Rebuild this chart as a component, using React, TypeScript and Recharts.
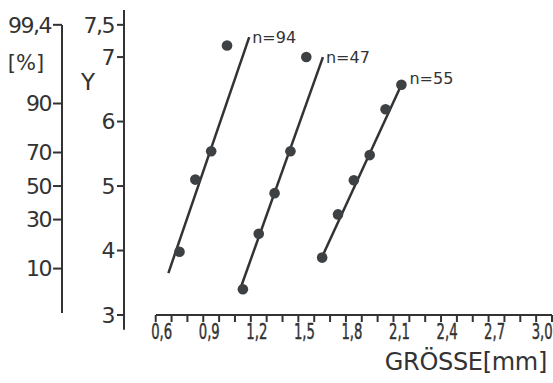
import {
  ComposedChart,
  Line,
  Scatter,
  XAxis,
  YAxis,
  ReferenceLine,
  LabelList,
} from "recharts";

// Messpunkte (Größe in mm, Probit Y)
const n94X = [0.75, 0.85, 0.95, 1.05];
const n94Y = [3.98, 5.1, 5.54, 7.18];
const n47X = [1.15, 1.25, 1.35, 1.45, 1.55];
const n47Y = [3.4, 4.26, 4.89, 5.54, 7.0];
const n55X = [1.65, 1.75, 1.85, 1.95, 2.05, 2.15];
const n55Y = [3.89, 4.56, 5.09, 5.48, 6.19, 6.57];

// Ausgleichsgeraden (Anfang, Ende)
const fit94X = [0.68, 1.19];
const fit94Y = [3.65, 7.31];
const fit47X = [1.13, 1.655];
const fit47Y = [3.38, 7.0];
const fit55X = [1.64, 2.15];
const fit55Y = [3.85, 6.57];

const seriesNames = ["n=94", "n=47", "n=55"];

// Achsen
const xTicks = [
  0.6, 0.7, 0.8, 0.9, 1.0, 1.1, 1.2, 1.3, 1.4, 1.5, 1.6, 1.7, 1.8, 1.9, 2.0,
  2.1, 2.2, 2.3, 2.4, 2.5, 2.6, 2.7, 2.8, 2.9, 3.0, 3.1,
];
const xLabelValues = [0.6, 0.9, 1.2, 1.5, 1.8, 2.1, 2.4, 2.7, 3.0];
const xLabelTexts = ["0,6", "0,9", "1,2", "1,5", "1,8", "2,1", "2,4", "2,7", "3,0"];
const yTicks = [3, 4, 5, 6, 7, 7.5];
const yTickLabels = ["3", "4", "5", "6", "7", "7,5"];
// Prozent-Skala (Probit-Lage der Prozentwerte)
const pctTicks = [3.72, 4.48, 5, 5.52, 6.28, 7.5];
const pctTickLabels = ["10", "30", "50", "70", "90", "99,4"];

const INK = "#333333";
const DOT = "#3e4143";
const FONT = "'DejaVu Sans', 'Liberation Sans', sans-serif";

const toPoints = (xs: number[], ys: number[]) => xs.map((x, i) => ({ x, y: ys[i] }));

function withName(xs: number[], ys: number[], name: string) {
  const pts: { x: number; y: number; n?: string }[] = toPoints(xs, ys);
  pts[pts.length - 1].n = name;
  return pts;
}

function XTick(props: any) {
  const { x, y, payload } = props;
  const idx = xLabelValues.findIndex((v) => Math.abs(v - payload.value) < 1e-6);
  if (idx < 0) return <g />;
  return (
    <text
      transform={`translate(${x + 6},${y}) scale(0.6,1)`}
      textAnchor="middle"
      dy="0.71em"
      fontSize={22}
      fontFamily={FONT}
      fill={INK}
      stroke={INK}
      strokeWidth={0.5}
    >
      {xLabelTexts[idx]}
    </text>
  );
}

function seriesLabel(dx: number, dy: number) {
  return (p: any) => {
    if (!p.value) return null;
    return (
      <text
        x={Number(p.x) + dx}
        y={Number(p.y) + dy}
        dy="0.35em"
        fontSize={16}
        fontFamily={FONT}
        fill={INK}
      >
        {p.value}
      </text>
    );
  };
}

const dotShape = (p: any) => <circle cx={p.cx} cy={p.cy} r={5.3} fill={DOT} />;

export default function App() {
  const pts94 = toPoints(n94X, n94Y);
  const pts47 = toPoints(n47X, n47Y);
  const pts55 = toPoints(n55X, n55Y);
  const line94 = withName(fit94X, fit94Y, seriesNames[0]);
  const line47 = withName(fit47X, fit47Y, seriesNames[1]);
  const line55 = withName(fit55X, fit55Y, seriesNames[2]);

  const tickText = { fontSize: 22, fontFamily: FONT, fill: INK };

  return (
    <div style={{ position: "absolute", left: 0, top: 0, width: 553, height: 383, background: "#fff" }}>
      <ComposedChart width={553} height={383} margin={{ top: 10, right: 1, bottom: 0, left: 0 }}>
        <XAxis
          type="number"
          dataKey="x"
          domain={[0.4, 3.1]}
          allowDataOverflow
          ticks={xTicks}
          interval={0}
          tick={<XTick />}
          tickSize={7}
          tickMargin={1}
          height={68}
          axisLine={{ stroke: INK, strokeWidth: 2, strokeDasharray: "0 32 1000" }}
          tickLine={{ stroke: INK, strokeWidth: 2 }}
          label={{
            content: (p: any) => {
              const vb = p.viewBox ?? { x: 124, y: 315, width: 428, height: 68 };
              return (
                <text
                  x={vb.x + vb.width - 5}
                  y={vb.y + 55}
                  textAnchor="end"
                  fontSize={24}
                  fontFamily={FONT}
                  fill={INK}
                  letterSpacing={-0.3}
                >
                  GRÖSSE[mm]
                </text>
              );
            },
          }}
        />
        <YAxis
          yAxisId="pct"
          type="number"
          domain={[3, 7.73]}
          allowDataOverflow
          ticks={pctTicks}
          interval={0}
          width={62}
          tickSize={9}
          tickMargin={2}
          tickFormatter={(v: number) => pctTickLabels[pctTicks.indexOf(v)] ?? ""}
          tick={{ ...tickText, letterSpacing: -1.5 }}
          axisLine={{ stroke: INK, strokeWidth: 2, strokeDasharray: "0 15 288 1000" }}
          tickLine={{ stroke: INK, strokeWidth: 2 }}
          label={{
            content: (p: any) => {
              const vb = p.viewBox ?? { x: 0, y: 10 };
              return (
                <text x={vb.x + 26} y={vb.y + 53} textAnchor="middle" dy="0.35em" fontSize={21} fontFamily={FONT} fill={INK}>
                  [%]
                </text>
              );
            },
          }}
        />
        <YAxis
          yAxisId="a"
          dataKey="y"
          type="number"
          domain={[3, 7.73]}
          allowDataOverflow
          ticks={yTicks}
          interval={0}
          width={62}
          tickSize={7}
          tickMargin={3}
          tickFormatter={(v: number) => yTickLabels[yTicks.indexOf(v)] ?? String(v)}
          tick={{ ...tickText, letterSpacing: -1.5 }}
          axisLine={{ stroke: INK, strokeWidth: 2 }}
          tickLine={{ stroke: INK, strokeWidth: 2 }}
          label={{
            content: (p: any) => {
              const vb = p.viewBox ?? { x: 62, y: 10 };
              return (
                <text x={vb.x + 26} y={vb.y + 72} textAnchor="middle" dy="0.35em" fontSize={23} fontFamily={FONT} fill={INK}>
                  Y
                </text>
              );
            },
          }}
        />
        <ReferenceLine
          yAxisId="a"
          segment={[
            { x: 0.4, y: 3 },
            { x: 0.4, y: 2.77 },
          ]}
          ifOverflow="visible"
          stroke={INK}
          strokeWidth={2}
        />

        <Line yAxisId="a" data={line94} dataKey="y" type="linear" stroke={INK} strokeWidth={2.5} dot={false} isAnimationActive={false}>
          <LabelList dataKey="n" content={seriesLabel(3, 0)} />
        </Line>
        <Line yAxisId="a" data={line47} dataKey="y" type="linear" stroke={INK} strokeWidth={2.5} dot={false} isAnimationActive={false}>
          <LabelList dataKey="n" content={seriesLabel(3, 0)} />
        </Line>
        <Line yAxisId="a" data={line55} dataKey="y" type="linear" stroke={INK} strokeWidth={2.5} dot={false} isAnimationActive={false}>
          <LabelList dataKey="n" content={seriesLabel(8, -6)} />
        </Line>

        <Scatter yAxisId="a" data={pts94} dataKey="y" shape={dotShape} isAnimationActive={false} />
        <Scatter yAxisId="a" data={pts47} dataKey="y" shape={dotShape} isAnimationActive={false} />
        <Scatter yAxisId="a" data={pts55} dataKey="y" shape={dotShape} isAnimationActive={false} />
      </ComposedChart>
    </div>
  );
}
